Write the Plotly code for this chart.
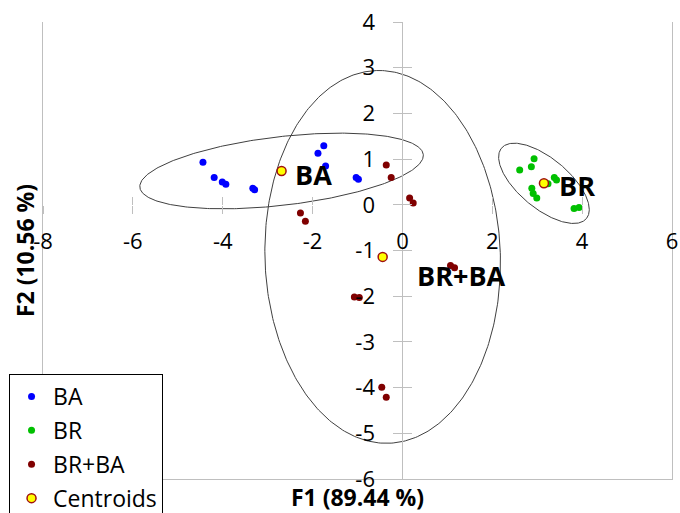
import numpy as np
import plotly.graph_objects as go

# ---- data ----
ba_x = [-4.44, -4.19, -4.01, -3.93, -3.33, -3.29, -1.88, -1.75, -1.71, -1.03, -0.98]
ba_y = [0.93, 0.60, 0.50, 0.45, 0.36, 0.33, 1.13, 1.29, 0.85, 0.60, 0.56]
br_x = [2.93, 2.87, 2.61, 3.38, 3.43, 3.24, 2.88, 2.91, 2.99, 3.82, 3.93]
br_y = [1.01, 0.83, 0.76, 0.60, 0.54, 0.46, 0.36, 0.25, 0.15, -0.08, -0.06]
brba_x = [-2.27, -2.16, -0.36, -0.25, 0.16, 0.24, -1.07, -0.96, 1.07, 1.16, -0.46, -0.36]
brba_y = [-0.18, -0.36, 0.87, 0.60, 0.15, 0.04, -2.02, -2.03, -1.33, -1.38, -3.99, -4.21]
group_names = ["BA", "BR", "BR+BA"]
centroid_x = [-2.69, 3.15, -0.44]
centroid_y = [0.74, 0.47, -1.14]
# confidence ellipses: semi-major, semi-minor, orientation (deg)
ellipse_a = [3.175, 1.22, 4.08]
ellipse_b = [0.751, 0.55, 2.62]
ellipse_angle = [6.5, -39.0, 92.0]
x_ticks = [-8, -6, -4, -2, 0, 2, 4, 6]
y_ticks = [-6, -5, -4, -3, -2, -1, 0, 1, 2, 3, 4]
x_title = "F1 (89.44 %)"
y_title = "F2 (10.56 %)"

GRAY = "#BFBFBF"
FONT = "Open Sans"

fig = go.Figure()

t = np.linspace(0, 2 * np.pi, 361)
for cx, cy, a, b, ang in zip(centroid_x, centroid_y, ellipse_a, ellipse_b, ellipse_angle):
    th = np.deg2rad(ang)
    ex = cx + a * np.cos(t) * np.cos(th) - b * np.sin(t) * np.sin(th)
    ey = cy + a * np.cos(t) * np.sin(th) + b * np.sin(t) * np.cos(th)
    fig.add_trace(go.Scatter(x=ex, y=ey, mode="lines", line=dict(color="#404040", width=1),
                             showlegend=False, hoverinfo="skip"))

fig.add_trace(go.Scatter(x=ba_x, y=ba_y, mode="markers", name="BA", legendgroup="g1",
                         marker=dict(color="#0000FF", size=7)))
fig.add_trace(go.Scatter(x=br_x, y=br_y, mode="markers", name="BR", legendgroup="g2",
                         marker=dict(color="#00C000", size=7)))
fig.add_trace(go.Scatter(x=brba_x, y=brba_y, mode="markers", name="BR+BA", legendgroup="g3",
                         marker=dict(color="#800000", size=7)))
fig.add_trace(go.Scatter(x=centroid_x, y=centroid_y, mode="markers", name="Centroids", legendgroup="g4",
                         marker=dict(color="#FFFF00", size=9, line=dict(color="#A01010", width=1.5))))

# invisible carriers so that the axes crossing at the origin get drawn
for xa, ya in [("x2", "y"), ("x3", "y"), ("x", "y2"), ("x", "y3")]:
    fig.add_trace(go.Scatter(x=centroid_x, y=centroid_y, xaxis=xa, yaxis=ya, mode="markers",
                             marker=dict(opacity=0), showlegend=False, hoverinfo="skip"))

label_pos = {"BA": (-2.44, 0.66), "BR": (3.44, 0.42), "BR+BA": (0.27, -1.55)}
for name in group_names:
    lx, ly = label_pos[name]
    fig.add_annotation(x=lx, y=ly, text="<b>%s</b>" % name, showarrow=False,
                       xanchor="left", yanchor="middle", font=dict(size=27, family=FONT, color="black"))

xpos = (0 - (-6)) / 10.0
ypos = (0 - (-8)) / 14.0

fig.update_layout(
    width=680, height=513,
    margin=dict(l=43, r=8, t=22, b=34, autoexpand=False),
    plot_bgcolor="white", paper_bgcolor="white",
    font=dict(family=FONT, color="black"),
    xaxis=dict(range=[-8, 6], showgrid=False, zeroline=False, showline=True, linecolor=GRAY, linewidth=1,
               mirror=False, ticks="", showticklabels=False,
               title=dict(text="<b>%s</b>" % x_title, font=dict(size=23, family=FONT), standoff=11)),
    yaxis=dict(range=[-6, 4], showgrid=False, zeroline=False, showline=True, linecolor=GRAY, linewidth=1,
               mirror=True, ticks="", showticklabels=False,
               title=dict(text="<b>%s</b>" % y_title, font=dict(size=23, family=FONT), standoff=0)),
    xaxis2=dict(overlaying="x", anchor="free", position=xpos, range=[-8, 6], showgrid=False, zeroline=False,
                showline=False, ticks="outside", ticklen=8, tickcolor=GRAY, tickwidth=1,
                tickmode="array", tickvals=x_ticks, ticktext=[str(v) for v in x_ticks],
                tickfont=dict(size=22, family=FONT), ticklabelstandoff=9),
    xaxis3=dict(overlaying="x", anchor="free", position=xpos, range=[-8, 6], showgrid=False, zeroline=False,
                showline=False, ticks="inside", ticklen=8, tickcolor=GRAY, tickwidth=1,
                tickmode="array", tickvals=x_ticks, showticklabels=False),
    yaxis2=dict(overlaying="y", anchor="free", position=ypos, range=[-6, 4], showgrid=False, zeroline=False,
                showline=True, linecolor=GRAY, linewidth=1, ticks="outside", ticklen=9, tickcolor=GRAY,
                tickwidth=1, tickmode="array", tickvals=y_ticks, ticktext=[str(v) for v in y_ticks],
                tickfont=dict(size=22, family=FONT), ticklabelstandoff=14),
    yaxis3=dict(overlaying="y", anchor="free", position=ypos, range=[-6, 4], showgrid=False, zeroline=False,
                showline=False, ticks="inside", ticklen=9, tickcolor=GRAY, tickwidth=1,
                tickmode="array", tickvals=y_ticks, showticklabels=False),
    legend=dict(x=-0.054, y=(479 - 374) / 457.0, xanchor="left", yanchor="top", bgcolor="white",
                bordercolor="black", borderwidth=1, font=dict(size=23, family=FONT), tracegroupgap=1,
                itemwidth=33),
)

fig.write_html("out.html")
